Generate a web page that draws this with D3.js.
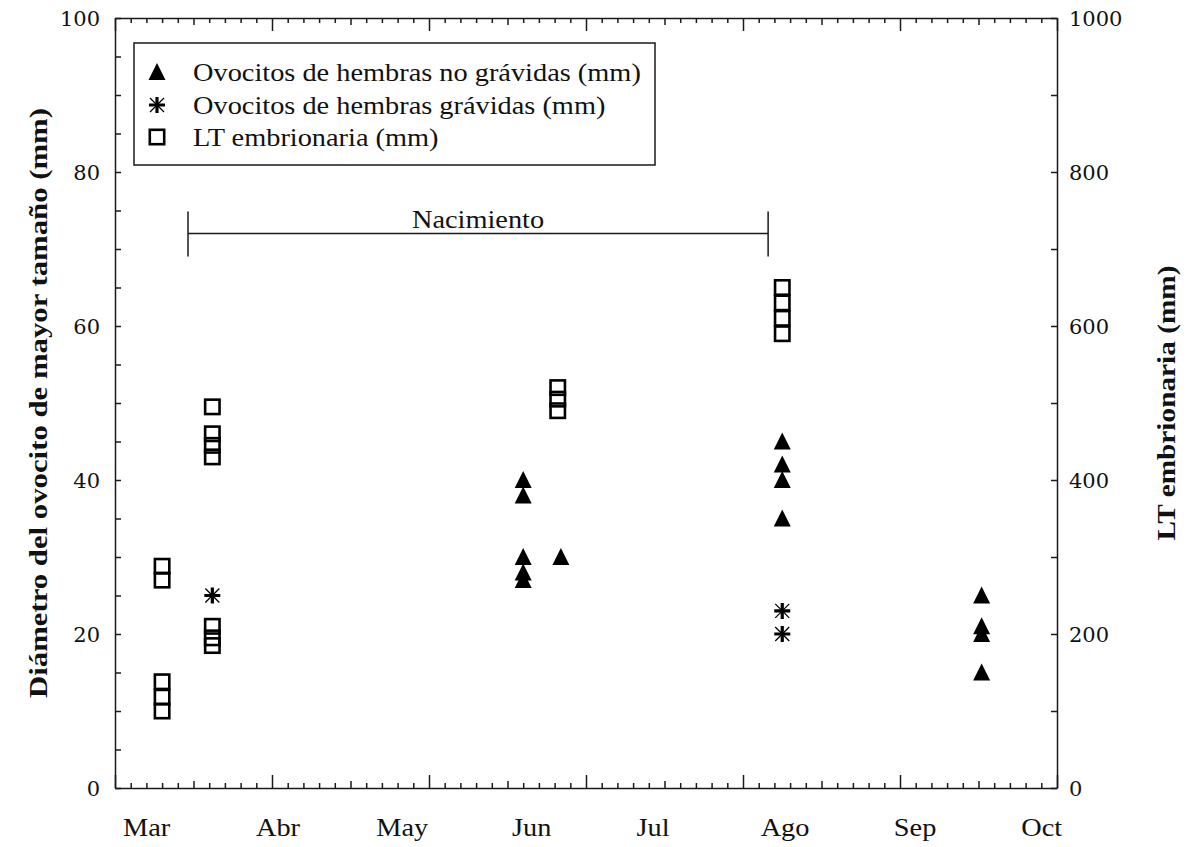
<!DOCTYPE html>
<html>
<head>
<meta charset="utf-8">
<script src="https://cdn.jsdelivr.net/npm/d3@7"></script>
<style>
  body { margin: 0; background: #fff; }
  text { font-family: "Liberation Serif", "Times New Roman", serif; fill: #111; }
</style>
</head>
<body>
<svg id="chart" width="1190" height="847"></svg>
<script>
// ---- data (x in axis units 0–6, left y in mm, right y in mm) ----
const monthLabels = ["Mar", "Abr", "May", "Jun", "Jul", "Ago", "Sep", "Oct"];
const monthAt = [0.202, 1.038, 1.83, 2.654, 3.427, 4.268, 5.096, 5.903];

// Ovocitos de hembras no grávidas (left axis)
const noGravX = [2.60, 2.60, 2.60, 2.60, 2.60, 2.84, 4.25, 4.25, 4.25, 4.25, 5.52, 5.52, 5.52, 5.52];
const noGravY = [40, 38, 30, 28, 27, 30, 45, 42, 40, 35, 25, 21, 20, 15];

// Ovocitos de hembras grávidas (left axis)
const gravX = [0.62, 4.25, 4.25];
const gravY = [25, 23, 20];

// LT embrionaria (right axis)
const embX = [0.30, 0.30, 0.30, 0.30, 0.30,
              0.62, 0.62, 0.62, 0.62, 0.62, 0.62, 0.62,
              2.82, 2.82, 2.82,
              4.25, 4.25, 4.25, 4.25];
const embY = [270, 288, 100, 118, 138,
              495, 460, 445, 430, 210, 195, 185,
              520, 505, 490,
              650, 630, 610, 590];

// birth period bracket
const birthSpan = [0.465, 4.16];
const birthLevel = 72;
const birthLabel = "Nacimiento";

const seriesNames = [
  "Ovocitos de hembras no grávidas (mm)",
  "Ovocitos de hembras grávidas (mm)",
  "LT embrionaria (mm)"
];
const leftTitle = "Diámetro del ovocito de mayor tamaño (mm)";
const rightTitle = "LT embrionaria (mm)";

// ---- layout ----
const svg = d3.select("#chart");
const plot = { left: 115, right: 1057, top: 18, bottom: 788 };
const ink = "#1a1a1a";

const x = d3.scaleLinear().domain([0, 6]).range([plot.left, plot.right]);
const yL = d3.scaleLinear().domain([0, 100]).range([plot.bottom, plot.top]);
const yR = d3.scaleLinear().domain([0, 1000]).range([plot.bottom, plot.top]);

function stretch(sel, k) {
  sel.each(function () {
    const L = this.getComputedTextLength();
    this.setAttribute("textLength", L * k);
    this.setAttribute("lengthAdjust", "spacingAndGlyphs");
  });
}
function fitTo(sel, len) {
  sel.attr("textLength", len).attr("lengthAdjust", "spacingAndGlyphs");
}
function styleAxis(g) {
  g.selectAll("path, line").attr("stroke", ink).attr("stroke-width", 1.5);
  g.selectAll("text").remove();
}

// ---- x axes (bottom + top frame), ticks pointing inward ----
const xMajor = d3.range(0, 6.001, 1);
const xMid = d3.range(0.5, 6, 1);
const xMinor = d3.range(0, 6.001, 0.1).filter(v => Math.abs(v * 2 - Math.round(v * 2)) > 1e-6);

function xTicks(axisFn, yPos) {
  [[xMinor, 5], [xMid, 7], [xMajor, 13]].forEach(([vals, len], i) => {
    const g = svg.append("g").attr("transform", `translate(0,${yPos})`)
      .call(axisFn(x).tickValues(vals).tickSize(len).tickSizeOuter(0).tickFormat(""));
    styleAxis(g);
    if (i < 2) g.select(".domain").remove();
  });
}
xTicks(d3.axisTop, plot.bottom);
xTicks(d3.axisBottom, plot.top);

// ---- left y axis ----
const gL = svg.append("g").attr("transform", `translate(${plot.left},0)`)
  .call(d3.axisRight(yL).tickValues(d3.range(0, 100.1, 5)).tickSize(6).tickSizeOuter(0).tickFormat(""));
styleAxis(gL);
svg.append("g").selectAll("text")
  .data(d3.range(0, 100.1, 20))
  .join("text")
  .attr("x", plot.left - 15)
  .attr("y", d => yL(d))
  .attr("dy", "0.36em")
  .attr("text-anchor", "end")
  .style("font-family", "'DejaVu Serif', serif")
  .style("font-size", "21px")
  .text(d => d);

// ---- right y axis ----
const gR = svg.append("g").attr("transform", `translate(${plot.right},0)`)
  .call(d3.axisLeft(yR).tickValues(d3.range(0, 1000.1, 100)).tickSize(6).tickSizeOuter(0).tickFormat(""));
styleAxis(gR);
svg.append("g").selectAll("text")
  .data(d3.range(0, 1000.1, 200))
  .join("text")
  .attr("x", plot.right + 12)
  .attr("y", d => yR(d))
  .attr("dy", "0.36em")
  .attr("text-anchor", "start")
  .style("font-family", "'DejaVu Serif', serif")
  .style("font-size", "21px")
  .text(d => d);

// ---- month labels ----
svg.append("g").selectAll("text")
  .data(monthLabels)
  .join("text")
  .attr("x", (d, i) => x(monthAt[i]))
  .attr("y", 836)
  .attr("text-anchor", "middle")
  .style("font-size", "26px")
  .text(d => d)
  .call(stretch, 1.09);

// ---- axis titles ----
svg.append("text")
  .attr("transform", `translate(47,${(plot.top + plot.bottom) / 2}) rotate(-90)`)
  .attr("text-anchor", "middle")
  .style("font-size", "26px")
  .style("font-weight", "bold")
  .text(leftTitle)
  .call(fitTo, 590);

svg.append("text")
  .attr("transform", `translate(1175,${(plot.top + plot.bottom) / 2}) rotate(-90)`)
  .attr("text-anchor", "middle")
  .style("font-size", "26px")
  .style("font-weight", "bold")
  .text(rightTitle)
  .call(fitTo, 275);

// ---- birth bracket ----
const bracket = svg.append("g").attr("stroke", ink).attr("stroke-width", 1.5);
bracket.append("line")
  .attr("x1", x(birthSpan[0])).attr("x2", x(birthSpan[1]))
  .attr("y1", yL(birthLevel)).attr("y2", yL(birthLevel));
birthSpan.forEach(v => {
  bracket.append("line")
    .attr("x1", x(v)).attr("x2", x(v))
    .attr("y1", yL(birthLevel) - 22).attr("y2", yL(birthLevel) + 23);
});
svg.append("text")
  .attr("x", x((birthSpan[0] + birthSpan[1]) / 2))
  .attr("y", yL(birthLevel) - 6)
  .attr("text-anchor", "middle")
  .style("font-size", "26px")
  .text(birthLabel)
  .call(stretch, 1.09);

// ---- marker shapes ----
const triPath = "M0,-9L8.5,8L-8.5,8Z";
const starBold = "M0,-8V8M-8,0H8";
const starThin = "M-7,-7L7,7M-7,7L7,-7";

function drawTriangle(g, cx, cy) {
  g.append("path").attr("d", triPath).attr("transform", `translate(${cx},${cy})`).attr("fill", "#000");
}
function drawStar(g, cx, cy) {
  const s = g.append("g").attr("transform", `translate(${cx},${cy})`).attr("fill", "none").attr("stroke", "#000");
  s.append("path").attr("d", starThin).attr("stroke-width", 1.3);
  s.append("path").attr("d", starBold).attr("stroke-width", 3.2);
}
function drawSquare(g, cx, cy) {
  g.append("rect").attr("x", cx - 7.2).attr("y", cy - 7.2).attr("width", 14.4).attr("height", 14.4)
    .attr("fill", "none").attr("stroke", "#000").attr("stroke-width", 2.6);
}

const marks = svg.append("g");
embX.forEach((v, i) => drawSquare(marks, x(v), yR(embY[i])));
noGravX.forEach((v, i) => drawTriangle(marks, x(v), yL(noGravY[i])));
gravX.forEach((v, i) => drawStar(marks, x(v), yL(gravY[i])));

// ---- legend ----
const legend = svg.append("g");
legend.append("rect")
  .attr("x", 134).attr("y", 43).attr("width", 521).attr("height", 122)
  .attr("fill", "#fff").attr("stroke", ink).attr("stroke-width", 1.5);
const rowY = [72, 105, 137];
const drawers = [drawTriangle, drawStar, drawSquare];
seriesNames.forEach((name, i) => {
  drawers[i](legend, 157, rowY[i]);
  legend.append("text")
    .attr("x", 193).attr("y", rowY[i]).attr("dy", "0.34em")
    .style("font-size", "26px")
    .text(name)
    .call(stretch, 1.09);
});
</script>
</body>
</html>
